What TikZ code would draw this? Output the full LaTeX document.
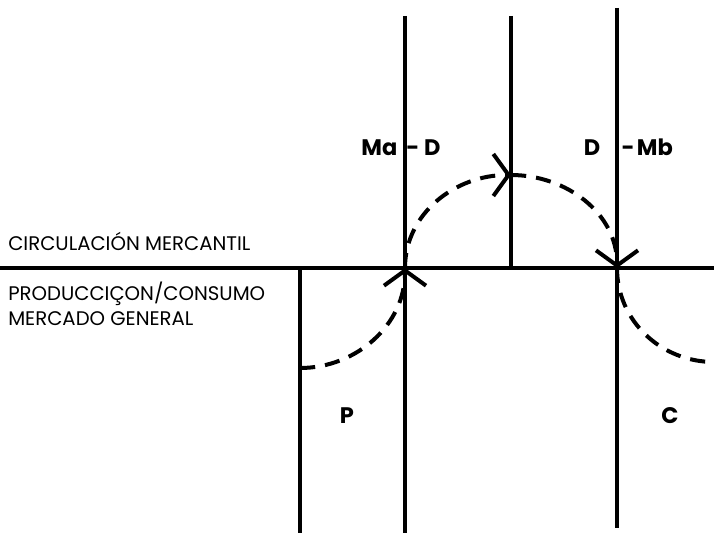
\documentclass[tikz,border=0pt]{standalone}
\usepackage{fontspec}
\setmainfont{Poppins}
\usetikzlibrary{arrows.meta,positioning,calc}

\tikzset{
  eje/.style={line width=0.1cm},
  flujo/.style={line width=0.1cm,dash pattern=on 0.38cm off 0.25cm},
  rotulo/.style={font=\fontsize{14}{17.7}\selectfont,inner sep=0pt,anchor=base west,align=left},
  fase/.style={font=\fontsize{16}{18}\selectfont\bfseries,inner sep=0pt}
}

\begin{document}
\begin{tikzpicture}[>={Straight Barb[length=0.38cm,width=1.05cm]}]

\useasboundingbox (0,0) rectangle (17.85,13.325);

\coordinate (L) at (0,6.625);
\coordinate (R) at (17.85,6.625);
\coordinate (P0) at (7.5,6.625);
\coordinate (P1) at (7.5,0);
\coordinate (M0) at (10.125,12.925);
\coordinate (M1) at (10.125,6.625);
\coordinate (M2) at (10.125,0);
\coordinate (D0) at (12.775,12.925);
\coordinate (D1) at (12.775,6.625);
\coordinate (C0) at (15.425,13.125);
\coordinate (C1) at (15.425,6.625);
\coordinate (C2) at (15.425,0.125);

\draw[eje] (L) -- (R);
\draw[eje] (P0) -- (P1);
\draw[eje] (M0) -- (M2);
\draw[eje] (D0) -- (D1);
\draw[eje] (C0) -- (C2);

% recorrido del dinero
\coordinate (S) at (7.5,4.125);
\coordinate (T) at (12.775,8.95);
\coordinate (E) at (17.85,4.275);
\draw[flujo,->] (S) to[out=0,in=-90] (M1);
\draw[flujo,->] (M1) to[out=90,in=180] (T);
\draw[flujo,->] (T) to[out=0,in=90] (C1);
\draw[flujo] (C1) to[out=-90,in=180] (E);

\node[fase,anchor=base] (lblMaD) at (10.025,9.45) {Ma\hspace{0.4em}- D};
\node[fase,anchor=base] (lblDMb) at (15.71,9.45) {D\hspace{0.95em}-\hspace{0.1em}Mb};
\node[fase] (lblP) at (8.675,2.925) {P};
\node[fase] (lblC) at (16.75,2.925) {C};

\node[rotulo] (txtCirc) at (0.2,7.075) {CIRCULACIÓN MERCANTIL};
\node[rotulo,anchor=north west] (txtProd) at (0.2,6.28) {PRODUCCIÇON/CONSUMO\\MERCADO GENERAL};
\end{tikzpicture}
\end{document}
